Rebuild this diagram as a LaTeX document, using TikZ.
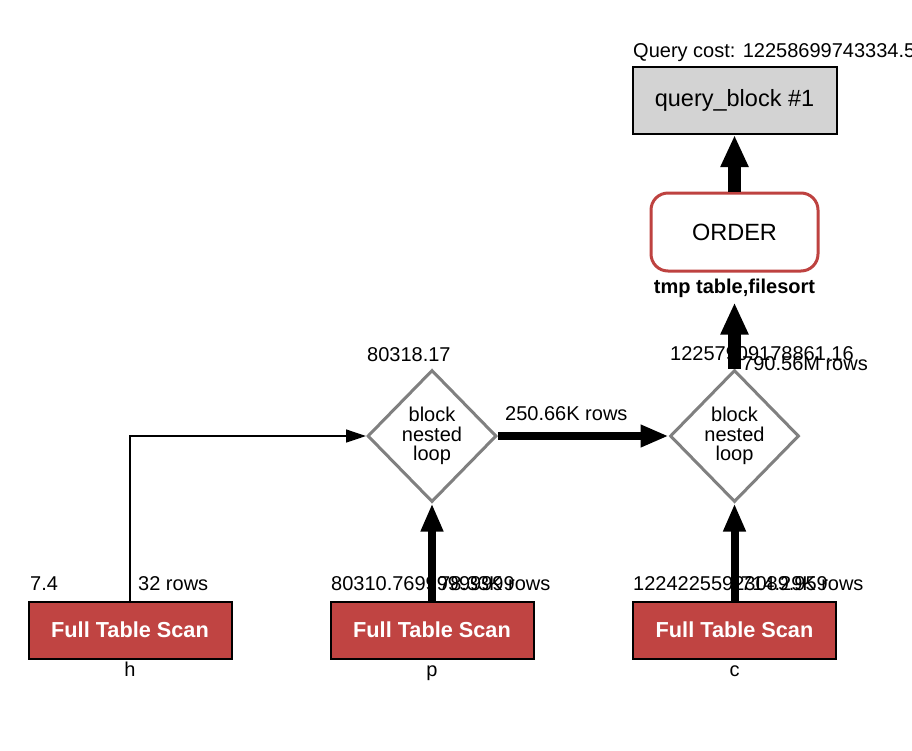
\documentclass[tikz,border=0pt]{standalone}
\usepackage{fontspec}
\setmainfont{Liberation Sans}
\usetikzlibrary{shapes.geometric,arrows.meta}
\definecolor{ftsred}{RGB}{192,68,66}
\definecolor{ordred}{RGB}{190,66,64}
\definecolor{dgray}{RGB}{128,128,128}
\definecolor{qbgray}{RGB}{211,211,211}
\begin{document}
\begin{tikzpicture}[x=1pt,y=-1pt,
 lbl/.style={anchor=base west,inner sep=0,font=\fontsize{20}{24}\selectfont},
 clbl/.style={anchor=base,inner sep=0,font=\fontsize{20}{24}\selectfont},
 blbl/.style={anchor=base,inner sep=0,font=\bfseries\fontsize{20}{24}\selectfont},
 fts/.style={draw=black,line width=2pt,fill=ftsred,text=white,font=\bfseries\fontsize{21.7}{26}\selectfont,minimum width=203pt,minimum height=57pt,inner sep=0},
 nl/.style={diamond,draw=dgray,line width=3pt,fill=white,minimum width=129pt,minimum height=132pt,inner sep=0,align=center,font=\fontsize{20}{19.5}\selectfont},
 qbox/.style={draw=black,line width=2pt,fill=qbgray,minimum width=204pt,minimum height=67pt,inner sep=0,font=\fontsize{23.5}{28}\selectfont},
 obox/.style={draw=ordred,line width=3pt,fill=white,rounded corners=17pt,minimum width=167pt,minimum height=78pt,inner sep=0,font=\fontsize{23.5}{28}\selectfont},
 midarrow/.style={line width=8pt,-{Triangle[length=28pt,width=21pt]}},
 bigarrow/.style={line width=13pt,-{Triangle[length=32pt,width=26pt]}},
 thinarrow/.style={line width=1.3pt,-{Triangle[length=20pt,width=13pt]}},
]
\useasboundingbox[fill=white] (0,0) rectangle (912,750);

% main nodes
\node[qbox] (qb) at (734.5,100.5) {query\_block \#1};
\node[obox] (ord) at (734.5,232) {ORDER};
\node[nl] (d1) at (432,436) {block\\nested\\loop};
\node[nl] (d2) at (734.5,436) {block\\nested\\loop};
\node[fts] (h) at (130,630) {Full Table Scan};
\node[fts] (p) at (432,630) {Full Table Scan};
\node[fts] (c) at (734.5,630) {Full Table Scan};

% labels
\node[lbl] (qcost) at (633,57) {Query cost: 12258699743334.5};
\node[blbl] (tmp) at (734.5,293) {tmp table,filesort};
\node[lbl] (d1cost) at (367,361) {80318.17};
\node[lbl] (d2cost) at (670,360) {12257909178861.16};
\node[lbl] (d2rows) at (742,370) {790.56M rows};
\node[lbl] (d1rows) at (505,420) {250.66K rows};
\node[lbl] (hcost) at (30,590) {7.4};
\node[lbl] (hrows) at (138,590) {32 rows};
\node[lbl] (pcost) at (331,590) {80310.76999999999};
\node[lbl] (prows) at (439,590) {78.33K rows};
\node[lbl] (ccost) at (633,590) {12242255923089.959};
\node[lbl] (crows) at (741,590) {714.29K rows};
\node[clbl] (hname) at (130,676) {h};
\node[clbl] (pname) at (432,676) {p};
\node[clbl] (cname) at (734.5,676) {c};

% connectors
\draw[bigarrow] (ord.north) -- (qb.south);
\draw[bigarrow,shorten >=30pt] (d2.north) -- (ord.south);
\draw[midarrow] (d1.east) -- (d2.west);
\draw[midarrow] (p.north) -- (d1.south);
\draw[midarrow] (c.north) -- (d2.south);
\draw[thinarrow] (h.north) |- (d1.west);
\end{tikzpicture}
\end{document}
